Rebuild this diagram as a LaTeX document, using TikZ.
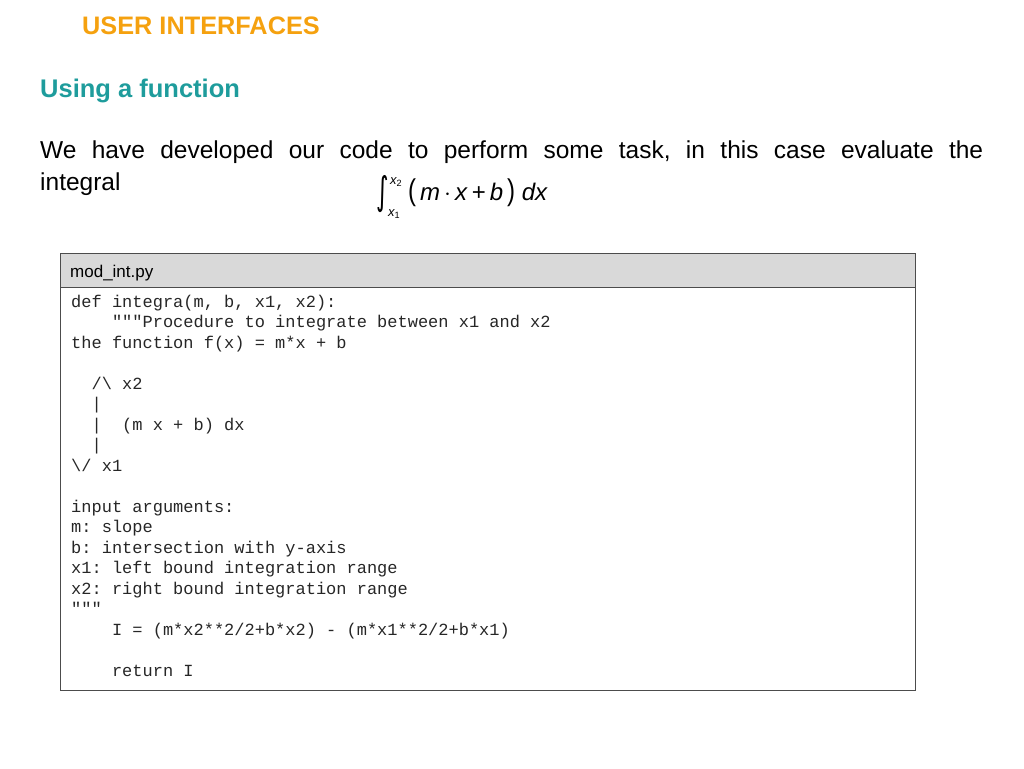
\documentclass[tikz,border=0pt]{standalone}
\usepackage{fontspec}
\setmainfont{Liberation Sans}
\newfontfamily\cod{Liberation Mono}
\newfontfamily\djv{DejaVu Sans}
\definecolor{ttlorange}{HTML}{F5A10F}
\definecolor{ttlteal}{HTML}{1E9C9C}
\definecolor{hdrgray}{HTML}{D9D9D9}
\frenchspacing
\begin{document}
\begin{tikzpicture}[x=1pt,y=-1pt,
  codeline/.style={anchor=base west,inner sep=0pt,text=black!85,font=\cod\fontsize{17}{20}\selectfont},
  bodytext/.style={anchor=base west,inner sep=0pt,font=\fontsize{24.5}{32}\selectfont}]
\useasboundingbox (0,0) rectangle (1024,768);
\node[anchor=base west,inner sep=0pt,text=ttlorange,font=\bfseries\fontsize{25.3}{28}\selectfont] (title) at (82,35) {USER INTERFACES};
\node[anchor=base west,inner sep=0pt,text=ttlteal,font=\bfseries\fontsize{25.5}{28}\selectfont] (sub) at (40,97) {Using a function};
\node[bodytext] (p1) at (40,158) {\makebox[943pt][s]{We have developed our code to perform some task, in this case evaluate the}};
\node[bodytext] (p2) at (40,190) {integral};
\node[anchor=center,inner sep=0pt,font=\djv\fontsize{24}{24}\selectfont] (intg) at (383,194) {\scalebox{1}[1.6]{∫}};
\node[anchor=base west,inner sep=0pt,font=\itshape\fontsize{13}{13}\selectfont] (up) at (390,184) {x\textsubscript{\upshape 2}};
\node[anchor=base west,inner sep=0pt,font=\itshape\fontsize{13}{13}\selectfont] (lo) at (388,216) {x\textsubscript{\upshape 1}};
\node[anchor=base west,inner sep=0pt,font=\fontsize{24}{24}\selectfont] (expr) at (408,200) {\scalebox{1}[1.25]{(}\,\textit{m}\,$\cdot$\,\textit{x}\,+\,\textit{b}\,\scalebox{1}[1.25]{)} \textit{dx}};
\draw[fill=hdrgray,draw=black!70] (60,253) rectangle (915,287);
\node[anchor=base west,inner sep=0pt,font=\fontsize{17}{20}\selectfont] (hdr) at (70,277) {mod\_int.py};
\draw[draw=black!70] (60,287) rectangle (915,690);
\node[codeline] (l0) at (71,307) {def integra(m, b, x1, x2):};
\node[codeline] (l1) at (71,327.5) {\ \ \ \ """Procedure to integrate between x1 and x2};
\node[codeline] (l2) at (71,348) {the function f(x) = m*x + b};
\node[codeline] (l4) at (71,389) {\ \ /\textbackslash{} x2};
\node[codeline] (l5) at (71,409.5) {\ \ |};
\node[codeline] (l6) at (71,430) {\ \ |\ \ (m x + b) dx};
\node[codeline] (l7) at (71,450.5) {\ \ |};
\node[codeline] (l8) at (71,471) {\textbackslash/ x1};
\node[codeline] (l10) at (71,512) {input arguments:};
\node[codeline] (l11) at (71,532.5) {m: slope};
\node[codeline] (l12) at (71,553) {b: intersection with y-axis};
\node[codeline] (l13) at (71,573.5) {x1: left bound integration range};
\node[codeline] (l14) at (71,594) {x2: right bound integration range};
\node[codeline] (l15) at (71,614.5) {"""};
\node[codeline] (l16) at (71,635) {\ \ \ \ I = (m*x2**2/2+b*x2) - (m*x1**2/2+b*x1)};
\node[codeline] (l18) at (71,676) {\ \ \ \ return I};
\end{tikzpicture}
\end{document}
